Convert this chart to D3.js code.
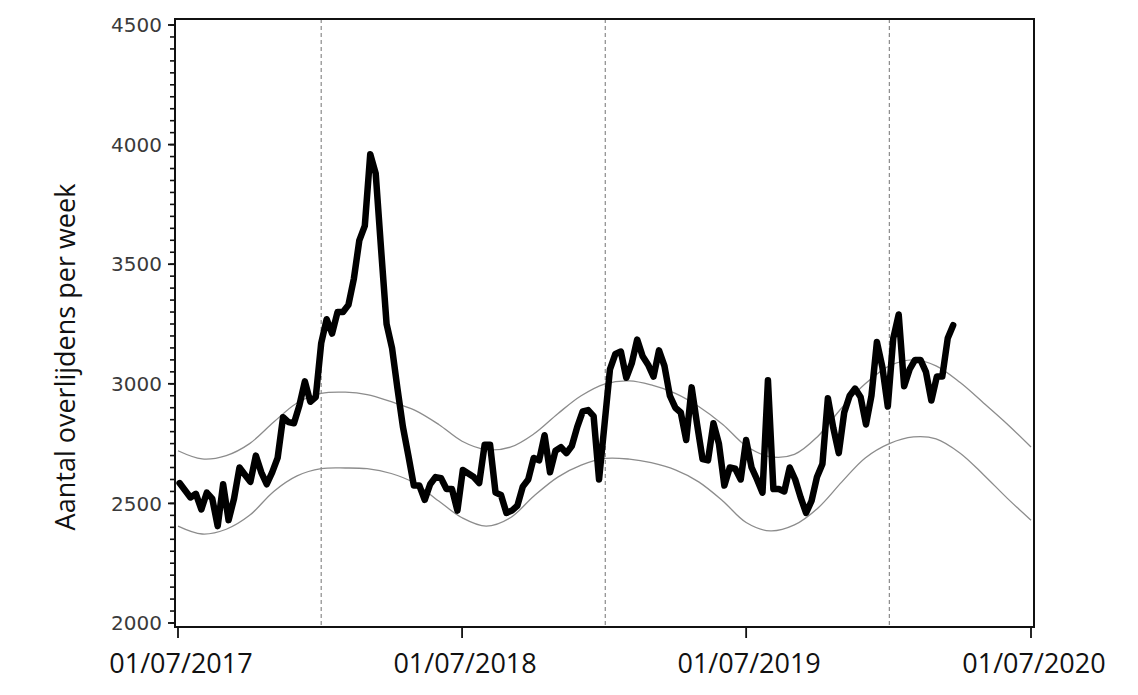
<!DOCTYPE html>
<html><head><meta charset="utf-8">
<script src="https://cdn.jsdelivr.net/npm/d3@7"></script>
<style>body{margin:0;background:#fff;} svg{display:block}</style>
</head><body><svg id="c" width="1138" height="695"></svg>
<script>
// ---- data ----
const firstWeek = "2017-07-03";
const deaths = [
2585,2555,2525,2540,2475,2545,2520,2405,2580,2430,
2520,2650,2620,2590,2700,2630,2580,2630,2690,2860,
2840,2835,2910,3010,2925,2945,3170,3270,3210,3300,
3300,3330,3440,3600,3660,3960,3880,3560,3250,3150,
2980,2820,2700,2575,2575,2515,2580,2610,2605,2560,
2560,2470,2640,2625,2610,2585,2745,2745,2545,2535,
2460,2470,2490,2570,2600,2690,2680,2785,2630,2720,
2735,2710,2740,2820,2885,2890,2865,2600,2830,3060,
3125,3135,3025,3085,3185,3115,3080,3030,3140,3075,
2950,2900,2880,2765,2985,2830,2685,2680,2835,2750,
2575,2650,2645,2600,2765,2650,2600,2545,3015,2560,
2560,2550,2650,2600,2525,2460,2510,2610,2665,2940,
2815,2710,2880,2950,2980,2945,2830,2950,3175,3070,
2905,3190,3290,2990,3060,3100,3100,3050,2930,3030,
3030,3190,3245
];
const bandStart = "2017-07-01";   // monthly points
const upperLimit = [
2720,2686,2700,2750,2840,2920,2960,2965,2955,2925,2890,2830,
2760,2725,2735,2790,2875,2950,3000,3012,2995,2960,2905,2830,
2740,2695,2705,2780,2900,3000,3075,3100,3075,3005,2920,2830,2736
];
const lowerLimit = [
2405,2372,2392,2450,2550,2615,2645,2648,2645,2625,2585,2510,
2440,2405,2440,2530,2610,2660,2688,2685,2670,2640,2590,2510,
2420,2385,2410,2480,2590,2690,2750,2778,2770,2710,2620,2520,2430
];
const yTicks = [2000,2500,3000,3500,4000,4500];
const xTickDates = ["2017-07-01","2018-07-01","2019-07-01","2020-07-01"];
const xTickLabels = ["01/07/2017","01/07/2018","01/07/2019","01/07/2020"];
const yearStarts = ["2018-01-01","2019-01-01","2020-01-01"];
const yTitle = "Aantal overlijdens per week";

// ---- layout ----
const parse = d3.utcParse("%Y-%m-%d");
const svg = d3.select("#c");
const L = 175, R = 1034, T = 19, B = 627;
const x = d3.scaleUtc().domain([parse("2017-07-01"), parse("2020-07-01")]).range([178, 1031]);
const y = d3.scaleLinear().domain([2000, 4500]).range([623, 25]);

const weekData = deaths.map((v,i)=>({d: d3.utcDay.offset(parse(firstWeek), 7*i), v}));
const band = upperLimit.map((u,i)=>({d: d3.utcMonth.offset(parse(bandStart), i), u, l: lowerLimit[i]}));

svg.append("defs").append("clipPath").attr("id","clip")
  .append("rect").attr("x",L).attr("y",T).attr("width",R-L).attr("height",B-T);

const plot = svg.append("g").attr("clip-path","url(#clip)");

// dashed year lines
plot.selectAll("line.yr").data(yearStarts).join("line")
  .attr("x1",d=>x(parse(d))).attr("x2",d=>x(parse(d)))
  .attr("y1",T).attr("y2",B)
  .attr("stroke","#8a8a8a").attr("stroke-width",1.2).attr("stroke-dasharray","4,3");

// bands
const upLine = d3.line().x(d=>x(d.d)).y(d=>y(d.u)).curve(d3.curveCatmullRom);
const loLine = d3.line().x(d=>x(d.d)).y(d=>y(d.l)).curve(d3.curveCatmullRom);
plot.append("path").attr("d",upLine(band)).attr("fill","none").attr("stroke","#8c8c8c").attr("stroke-width",1.3);
plot.append("path").attr("d",loLine(band)).attr("fill","none").attr("stroke","#8c8c8c").attr("stroke-width",1.3);

// data line
const dl = d3.line().x(d=>x(d.d)).y(d=>y(d.v));
plot.append("path").attr("d",dl(weekData)).attr("fill","none")
  .attr("stroke","#000").attr("stroke-width",6.5).attr("stroke-linejoin","round").attr("stroke-linecap","round");

// frame
svg.append("rect").attr("x",L).attr("y",T).attr("width",R-L).attr("height",B-T)
  .attr("fill","none").attr("stroke","#111").attr("stroke-width",2);

// y axis ticks
const minor = d3.range(2000, 4501, 50);
svg.selectAll("line.ymin").data(minor).join("line")
  .attr("x1",L-5).attr("x2",L).attr("y1",d=>y(d)).attr("y2",d=>y(d))
  .attr("stroke","#111").attr("stroke-width",1.6);
svg.selectAll("line.ymaj").data(yTicks).join("line")
  .attr("x1",L-7).attr("x2",L).attr("y1",d=>y(d)).attr("y2",d=>y(d))
  .attr("stroke","#111").attr("stroke-width",1.8);
svg.selectAll("text.yl").data(yTicks).join("text")
  .attr("x",162).attr("y",d=>y(d)).attr("dy","0.36em")
  .attr("text-anchor","end").attr("font-family","DejaVu Sans").attr("font-size",20)
  .attr("fill","#3a3a3a").text(d=>d);

// x axis ticks
svg.selectAll("line.xt").data(xTickDates).join("line")
  .attr("x1",d=>x(parse(d))).attr("x2",d=>x(parse(d)))
  .attr("y1",B).attr("y2",B+11).attr("stroke","#111").attr("stroke-width",1.8);
svg.selectAll("text.xl").data(xTickDates).join("text")
  .attr("x",(d,i)=>x(parse(d))+3).attr("y",673)
  .attr("text-anchor","middle").attr("font-family","Open Sans").attr("font-size",27)
  .attr("fill","#111").text((d,i)=>xTickLabels[i]);

// y title
svg.append("text").attr("transform","translate(75,357) rotate(-90)")
  .attr("text-anchor","middle").attr("font-family","Open Sans").attr("font-size",27)
  .attr("fill","#111").text(yTitle);
</script></body></html>
